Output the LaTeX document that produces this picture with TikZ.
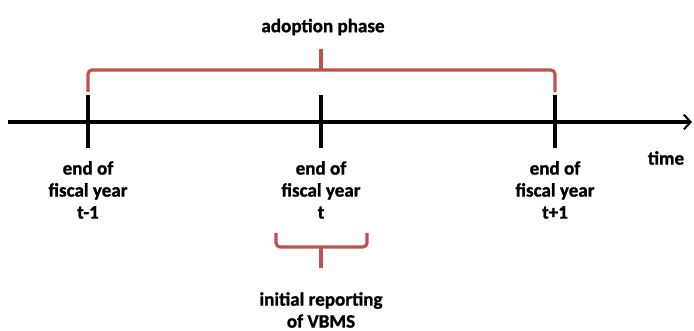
\documentclass[tikz,border=0pt]{standalone}
\usepackage{fontspec}
\setmainfont[BoldFeatures={FakeBold=1.2}]{Carlito}
\usetikzlibrary{arrows.meta}
\definecolor{bracered}{RGB}{192,80,77}
\tikzset{
  axis/.style={line width=2.3pt, -{Straight Barb[length=5pt,width=11pt,line width=1.6pt]}},
  yearmark/.style={line width=2.3pt},
  bracket/.style={draw=bracered, line width=2.3pt, rounded corners=3pt},
  yearlabel/.style={align=center}
}
\begin{document}
\begin{tikzpicture}[x=0.75pt,y=-0.75pt,font=\fontsize{14.3}{16.5}\selectfont\bfseries]
  \useasboundingbox (0,0) rectangle (694,331);

  % Time axis
  \coordinate (start) at (8,122);
  \coordinate (stop) at (692,122);
  \draw[axis] (start) -- (stop);
  \node (time) at (666,158) {time};

  % Ends of fiscal years
  \foreach \x/\name/\yr in {88/prev/t-1, 321/curr/t, 555/next/t+1} {
    \draw[yearmark] (\x,95) -- (\x,148);
    \node[yearlabel] (\name) at (\x,190) {end of\\fiscal year\\\yr};
  }

  % Adoption phase
  \draw[bracket] (88,92) -- (88,70) -- (555,70) -- (555,92);
  \draw[bracket] (321,70) -- (321,49);
  \node (phase) at (323,27) {adoption phase};

  % Initial reporting
  \draw[bracket] (276,233) -- (276,247) -- (367,247) -- (367,233);
  \draw[bracket] (321,247) -- (321,268);
  \node[yearlabel] (initial) at (321,310) {initial reporting\\of VBMS};
\end{tikzpicture}
\end{document}
